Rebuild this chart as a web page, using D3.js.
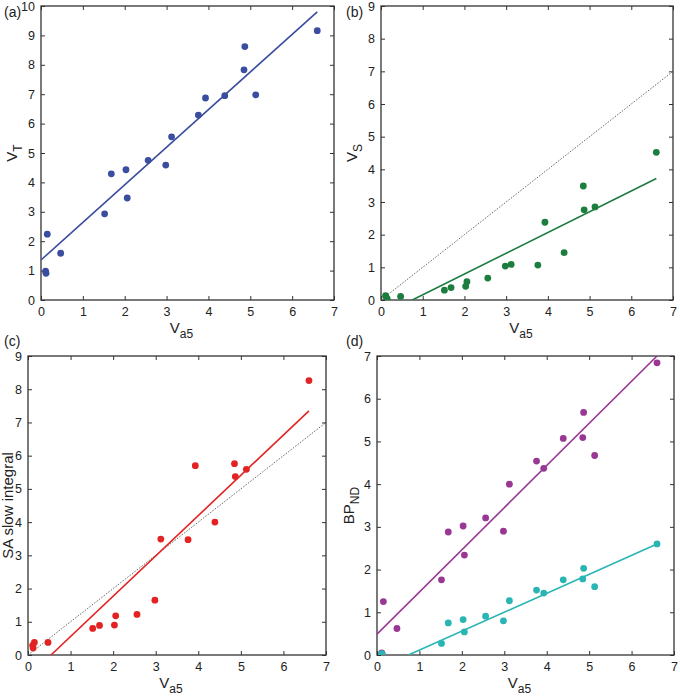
<!DOCTYPE html>
<html><head><meta charset="utf-8">
<script src="https://cdn.jsdelivr.net/npm/d3@7"></script>
<style>body{margin:0;background:#fff}svg{display:block}text{font-family:"Liberation Sans",Arial,sans-serif}</style>
</head><body><svg id="c" width="680" height="698"></svg>
<script>
// Va5 (shared x)
const va5 = [0.11,0.12,0.15,0.47,1.52,1.68,2.03,2.06,2.56,2.98,3.12,3.76,3.93,4.39,4.85,4.87,5.13,6.60];
const vT  = [0.98,0.91,2.24,1.59,2.93,4.29,4.43,3.47,4.75,4.59,5.55,6.29,6.87,6.95,7.83,8.62,6.98,9.16];
const vS  = [0.13,0.10,0.03,0.11,0.30,0.38,0.42,0.56,0.67,1.04,1.09,1.07,2.38,1.45,3.49,2.76,2.85,4.52];
const saSlow = [0.29,0.21,0.38,0.38,0.80,0.89,0.90,1.18,1.22,1.65,3.49,3.47,5.70,4.00,5.76,5.37,5.59,8.26];
const bpPurple = [0.05,0.03,1.25,0.62,1.76,2.88,3.02,2.34,3.21,2.90,4.00,4.54,4.37,5.07,5.09,5.68,4.67,6.84];
const bpCyan   = [0.03,0.02,null,null,0.27,0.75,0.83,0.54,0.91,0.80,1.27,1.52,1.45,1.76,1.78,2.03,1.60,2.60];
// fit lines [x0,y0,x1,y1]
const fitA = [0,1.36,6.6,9.80];
const fitB = [0.75,0,6.6,3.72];
const fitC = [0.54,0,6.6,7.35];
const fitDp = [0,0.49,6.6,7.0];
const fitDc = [0.74,0,6.6,2.60];
const identity = [0,0,7,7];
const xTicks = [0,1,2,3,4,5,6,7];

const svg = d3.select("#c");
const frame = "#333";
const fmt = d3.format("d");

function panel(o){
  const g = svg.append("g");
  const x = d3.scaleLinear().domain([0,7]).range([o.l,o.r]);
  const y = d3.scaleLinear().domain([0,o.ymax]).range([o.b,o.t]);
  const yTicks = d3.range(0,o.ymax+1);
  const gx = g.append("g").attr("transform",`translate(0,${o.b})`).call(d3.axisBottom(x).tickValues(xTicks).tickFormat(fmt).tickSizeInner(-4).tickSizeOuter(0).tickPadding(7));
  const gxt = g.append("g").attr("transform",`translate(0,${o.t})`).call(d3.axisTop(x).tickValues(xTicks).tickSizeInner(-4).tickSizeOuter(0).tickFormat(""));
  const gy = g.append("g").attr("transform",`translate(${o.l},0)`).call(d3.axisLeft(y).tickValues(yTicks).tickFormat(fmt).tickSizeInner(-4).tickSizeOuter(0).tickPadding(6));
  const gyr = g.append("g").attr("transform",`translate(${o.r},0)`).call(d3.axisRight(y).tickValues(yTicks).tickSizeInner(-4).tickSizeOuter(0).tickFormat(""));
  [gx,gxt,gy,gyr].forEach(a=>{a.select(".domain").remove();a.selectAll("line").attr("stroke",frame).attr("stroke-width",1);
    a.selectAll("text").attr("fill","#222").style("font-size","12.5px");});
  g.append("rect").attr("x",o.l).attr("y",o.t).attr("width",o.r-o.l).attr("height",o.b-o.t)
    .attr("fill","none").attr("stroke",frame).attr("stroke-width",1.3);
  const clip = "clip"+o.id;
  g.append("clipPath").attr("id",clip).append("rect").attr("x",o.l).attr("y",o.t).attr("width",o.r-o.l).attr("height",o.b-o.t);
  const pg = g.append("g").attr("clip-path",`url(#${clip})`);
  if(o.identity){
    pg.append("line").attr("x1",x(identity[0])).attr("y1",y(identity[1])).attr("x2",x(identity[2])).attr("y2",y(identity[3]))
      .attr("stroke","#555").attr("stroke-width",0.9).attr("stroke-dasharray","1.5,1.5");
  }
  o.series.forEach(s=>{
    pg.append("line").attr("x1",x(s.fit[0])).attr("y1",y(s.fit[1])).attr("x2",x(s.fit[2])).attr("y2",y(s.fit[3]))
      .attr("stroke",s.color).attr("stroke-width",1.6);
    const pts = va5.map((v,i)=>[v,s.ys[i]]).filter(p=>p[1]!=null);
    pg.selectAll(null).data(pts).enter().append("circle")
      .attr("cx",d=>x(d[0])).attr("cy",d=>y(d[1])).attr("r",3.4).attr("fill",s.color);
  });
  const xl = g.append("text").attr("x",(o.l+o.r)/2-6).attr("y",o.b+33).attr("text-anchor","middle").attr("fill","#222").style("font-size","15px");
  xl.append("tspan").text("V");
  xl.append("tspan").attr("dy",5).style("font-size","12px").text("a5");
  const yl = g.append("text").attr("transform",`translate(${o.yl},${(o.t+o.b)/2}) rotate(-90)`).attr("text-anchor","middle").attr("fill","#222").style("font-size","15px");
  if(o.ysub){
    yl.append("tspan").text(o.ylab);
    yl.append("tspan").attr("dy",5).style("font-size","12px").text(o.ysub);
  } else yl.text(o.ylab);
  g.append("text").attr("x",o.lx).attr("y",o.ly).attr("fill","#222").style("font-size","14px").text(o.letter);
}

panel({id:"a",l:41,r:334,t:6,b:300,ymax:10,yl:17,ylab:"V",ysub:"T",letter:"(a)",lx:4,ly:17,
  series:[{ys:vT,fit:fitA,color:"#3a4d9f"}]});
panel({id:"b",l:381,r:673,t:6,b:300,ymax:9,yl:357,ylab:"V",ysub:"S",letter:"(b)",lx:346,ly:17,identity:true,
  series:[{ys:vS,fit:fitB,color:"#1b7d3e"}]});
panel({id:"c",l:28,r:326,t:356,b:655,ymax:9,yl:13,ylab:"SA slow integral",letter:"(c)",lx:4,ly:346,identity:true,
  series:[{ys:saSlow,fit:fitC,color:"#e32323"}]});
panel({id:"d",l:377,r:674,t:356,b:655,ymax:7,yl:354,ylab:"BP",ysub:"ND",letter:"(d)",lx:346,ly:346,
  series:[{ys:bpPurple,fit:fitDp,color:"#993894"},{ys:bpCyan,fit:fitDc,color:"#2ab5b5"}]});
</script></body></html>
